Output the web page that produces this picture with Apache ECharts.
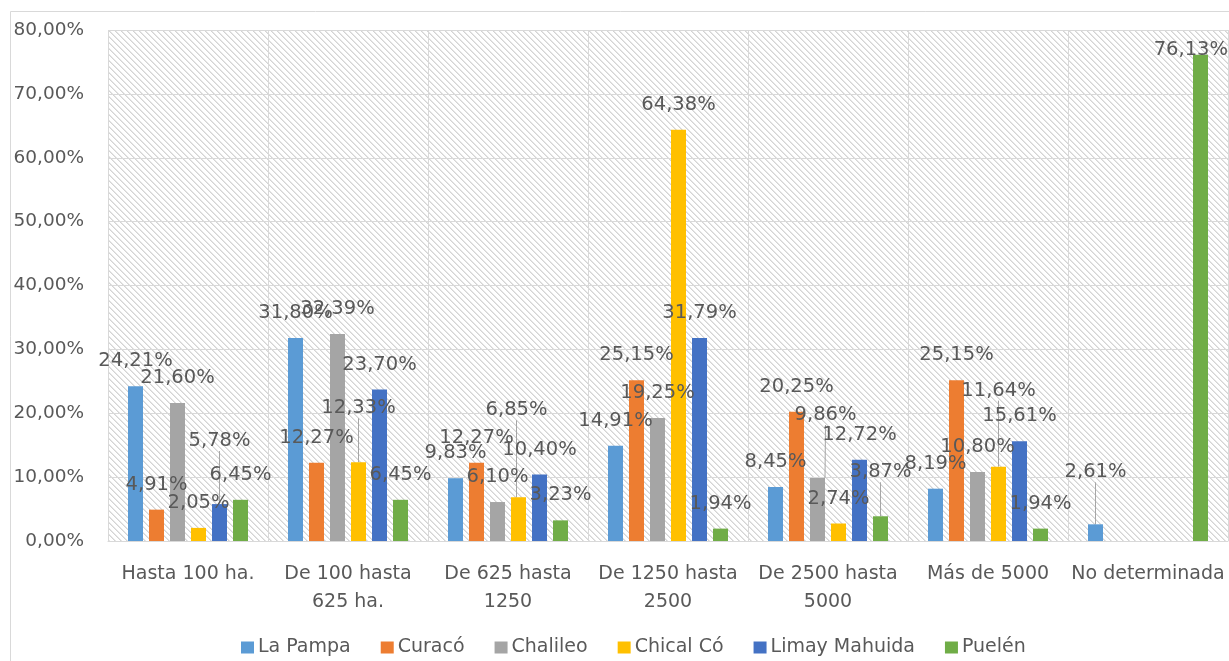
<!DOCTYPE html>
<html>
<head>
<meta charset="utf-8">
<script src="https://cdn.jsdelivr.net/npm/echarts@6/dist/echarts.min.js"></script>
<style>
html,body{margin:0;padding:0;background:#fff;}
#chart{width:1229px;height:661px;}
</style>
</head>
<body>
<div id="chart"></div>
<script>
const categories = ['Hasta 100 ha.', 'De 100 hasta\n625 ha.', 'De 625 hasta\n1250', 'De 1250 hasta\n2500', 'De 2500 hasta\n5000', 'Más de 5000', 'No determinada'];
const seriesNames = ['La Pampa', 'Curacó', 'Chalileo', 'Chical Có', 'Limay Mahuida', 'Puelén'];
const laPampa = [24.21, 31.80, 9.83, 14.91, 8.45, 8.19, 2.61];
const curaco = [4.91, 12.27, 12.27, 25.15, 20.25, 25.15, null];
const chalileo = [21.60, 32.39, 6.10, 19.25, 9.86, 10.80, null];
const chicalCo = [2.05, 12.33, 6.85, 64.38, 2.74, 11.64, null];
const limayMahuida = [5.78, 23.70, 10.40, 31.79, 12.72, 15.61, null];
const puelen = [6.45, 6.45, 3.23, 1.94, 3.87, 1.94, 76.13];
const yTicks = [0, 10, 20, 30, 40, 50, 60, 70, 80];

const values = [laPampa, curaco, chalileo, chicalCo, limayMahuida, puelen];
const colors = ['#5B9BD5', '#ED7D31', '#A5A5A5', '#FFC000', '#4472C4', '#70AD47'];

// manually dragged data labels (as in the original spreadsheet chart): [series, category, dx, dy] in px
const labelNudges = [
  [4, 0, 0, -38],
  [3, 1, 0, -29],
  [3, 2, -2, -62],
  [2, 4, 8, -38],
  [5, 4, 0, -19],
  [3, 5, 0, -51],
  [0, 6, 0, -27]
];
const findNudge = (s, c) => labelNudges.find(d => d[0] === s && d[1] === c);

// hatch pattern for plot background
const P = 6;
const pc = document.createElement('canvas');
pc.width = P; pc.height = P;
const ctx = pc.getContext('2d');
ctx.fillStyle = '#ffffff';
ctx.fillRect(0, 0, P, P);
for (let i = 0; i < P; i++) {
  ctx.fillStyle = '#d4d4d4';
  ctx.fillRect(i, i, 1, 1);
  ctx.fillStyle = '#e6e6e6';
  ctx.fillRect((i + 1) % P, i, 1, 1);
}

const fmt = v => v.toFixed(2).replace('.', ',') + '%';
const FONT = 'DejaVu Sans';
const PLOT_RIGHT = 1228;

const chart = echarts.init(document.getElementById('chart'), null, {renderer: 'canvas'});
chart.setOption({
  animation: false,
  backgroundColor: '#ffffff',
  textStyle: {fontFamily: FONT},
  graphic: [{
    type: 'rect', silent: true, z: -10,
    shape: {x: 10.5, y: 11.5, width: 1300, height: 800},
    style: {fill: 'none', stroke: '#d9d9d9', lineWidth: 1}
  }],
  grid: {
    left: 108, right: 1229 - PLOT_RIGHT, top: 30, bottom: 120,
    show: true, borderWidth: 0,
    backgroundColor: {image: pc, repeat: 'repeat'}
  },
  legend: {
    data: seriesNames,
    top: 633, left: 236,
    itemWidth: 13, itemHeight: 12, itemGap: 30,
    icon: 'rect',
    textStyle: {fontFamily: FONT, fontSize: 19, color: '#595959', padding: [0, 0, 0, -1]}
  },
  xAxis: {
    type: 'category',
    data: categories,
    axisLine: {show: true, lineStyle: {color: '#d9d9d9'}},
    axisTick: {show: false},
    splitLine: {show: true, lineStyle: {color: '#d9d9d9'}},
    axisLabel: {fontFamily: FONT, fontSize: 19, color: '#595959', margin: 19, lineHeight: 28, interval: 0}
  },
  yAxis: {
    type: 'value',
    min: yTicks[0], max: yTicks[yTicks.length - 1], interval: 10,
    axisLine: {show: false},
    axisTick: {show: false},
    splitLine: {show: true, lineStyle: {color: '#d9d9d9'}},
    axisLabel: {fontFamily: FONT, fontSize: 18.5, color: '#595959', margin: 24, formatter: v => fmt(v)}
  },
  series: seriesNames.map((name, i) => ({
    name: name,
    type: 'bar',
    data: values[i].map((v, j) => ({
      value: v,
      labelLine: {show: !!findNudge(i, j)}
    })),
    barWidth: 15,
    barGap: '40%',
    itemStyle: {color: colors[i]},
    label: {
      show: true, position: 'top', distance: 15,
      fontFamily: FONT, fontSize: 19.5, color: '#595959',
      formatter: p => (p.value == null ? '' : fmt(p.value))
    },
    labelLine: {show: false, lineStyle: {color: '#a6a6a6', width: 1}},
    labelLayout: params => {
      const r = params.labelRect;
      const n = findNudge(params.seriesIndex, params.dataIndex);
      if (n) return {dx: n[2], dy: n[3]};
      if (r.x + r.width > PLOT_RIGHT) {
        return {x: PLOT_RIGHT, align: 'right'};
      }
      return {};
    }
  }))
});
</script>
</body>
</html>
